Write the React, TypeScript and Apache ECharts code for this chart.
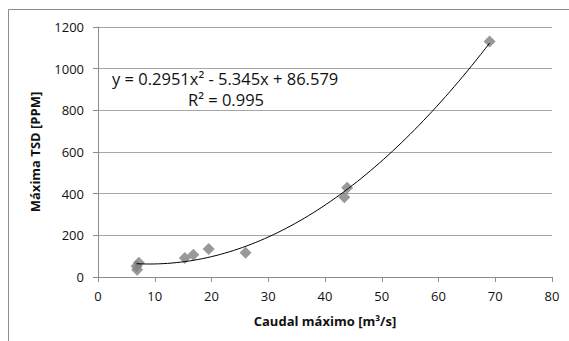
import React, { useEffect, useRef } from "react";
import * as echarts from "echarts";

const caudal: number[] = [7.2, 6.8, 6.9, 15.3, 16.8, 19.5, 26.0, 43.4, 43.9, 69.0];
const tsd: number[] = [68, 52, 35, 91, 107, 135, 117, 383, 428, 1130];
const trendCoefs: number[] = [0.2951, -5.345, 86.579];
const equationText = "y = 0.2951x\u00B2 - 5.345x + 86.579";
const r2Text = "R\u00B2 = 0.995";
const xTitle = "Caudal m\u00E1ximo [m\u00B3/s]";
const yTitle = "M\u00E1xima TSD [PPM]";

export default function App() {
  const ref = useRef<HTMLDivElement>(null);
  useEffect(() => {
    if (!ref.current) return;
    const chart = echarts.init(ref.current, null, { renderer: "svg" });
    const xmin = Math.min(...caudal);
    const xmax = Math.max(...caudal);
    const trend: number[][] = [];
    const n = 80;
    for (let i = 0; i <= n; i++) {
      const x = xmin + ((xmax - xmin) * i) / n;
      trend.push([x, trendCoefs[0] * x * x + trendCoefs[1] * x + trendCoefs[2]]);
    }
    const font = "Open Sans";
    chart.setOption({
      animation: false,
      backgroundColor: "#ffffff",
      grid: { left: 98, right: 17, top: 27, bottom: 64 },
      xAxis: {
        type: "value",
        min: 0,
        max: 80,
        interval: 10,
        name: xTitle,
        nameLocation: "middle",
        nameGap: 37,
        nameTextStyle: { fontFamily: font, fontWeight: "bold", fontSize: 13, color: "#111" },
        axisLine: { show: true, lineStyle: { color: "#8c8c8c" } },
        axisTick: { show: true, inside: false, length: 5, lineStyle: { color: "#8c8c8c" } },
        axisLabel: { fontFamily: font, fontSize: 13, color: "#111", margin: 12 },
        splitLine: { show: false },
      },
      yAxis: {
        type: "value",
        min: 0,
        max: 1200,
        interval: 200,
        name: yTitle,
        nameLocation: "middle",
        nameGap: 57,
        nameRotate: 90,
        nameTextStyle: { fontFamily: font, fontWeight: "bold", fontSize: 13, color: "#111" },
        axisLine: { show: true, lineStyle: { color: "#8c8c8c" } },
        axisTick: { show: true, inside: false, length: 5, lineStyle: { color: "#8c8c8c" } },
        axisLabel: {
          fontFamily: font,
          fontSize: 13,
          color: "#111",
          margin: 14,
          formatter: (v: number) => String(v),
        },
        splitLine: { show: true, lineStyle: { color: "#a6a6a6", width: 1 } },
      },
      series: [
        {
          type: "line",
          data: trend,
          showSymbol: false,
          smooth: false,
          lineStyle: { color: "#000000", width: 1 },
          z: 3,
        },
        {
          type: "scatter",
          data: caudal.map((x, i) => [x, tsd[i]]),
          symbol: "diamond",
          symbolSize: 12,
          itemStyle: { color: "#808080" },
          z: 2,
        },
      ],
      graphic: [
        {
          type: "rect",
          shape: { x: 8.5, y: 9.5, width: 700, height: 500 },
          style: { fill: "none", stroke: "#8c8c8c", lineWidth: 1 },
          silent: true,
        },
        {
          type: "text",
          left: 112,
          top: 70,
          style: { text: equationText, fontFamily: font, fontSize: 16.5, fill: "#111" },
        },
        {
          type: "text",
          left: 188,
          top: 91,
          style: { text: r2Text, fontFamily: font, fontSize: 16.5, fill: "#111" },
        },
      ],
    });
    return () => chart.dispose();
  }, []);
  return (
    <div
      ref={ref}
      style={{ position: "absolute", left: 0, top: 0, width: 569, height: 341 }}
    />
  );
}
